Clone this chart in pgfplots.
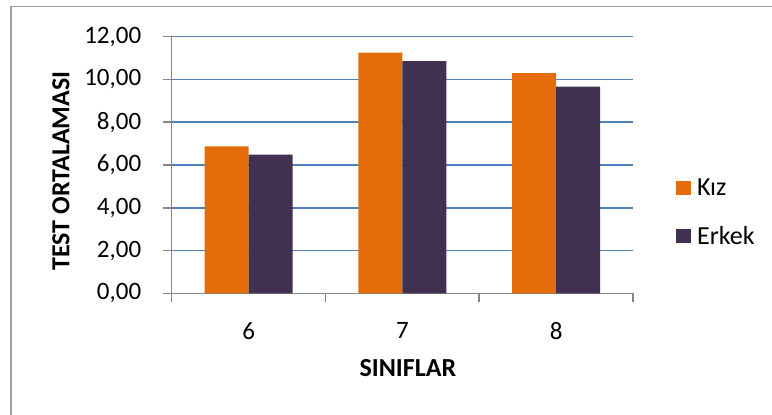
\documentclass[border=0pt]{standalone}
\usepackage{pgfplots}
\pgfplotsset{compat=1.18}
\usepackage{fontspec}
\setmainfont{Carlito}
\definecolor{kiz}{HTML}{E46C0A}
\definecolor{erkek}{HTML}{403151}
\definecolor{gridblue}{HTML}{4F81BD}
\definecolor{axgray}{HTML}{868686}
\definecolor{framegray}{HTML}{A0A0A0}
\begin{document}
\begin{tikzpicture}[x=1bp,y=1bp]
\useasboundingbox (0,0) rectangle (772,414);
% chart area frame
\draw[framegray, line width=1.5bp] (11,-5) -- (11,407.5) -- (780,407.5);
\begin{axis}[
  at={(171.7bp,120.7bp)}, anchor=south west,
  scale only axis, width=461.3bp, height=256.6bp,
  xmin=-0.5, xmax=2.5, ymin=0, ymax=12,
  ybar=0pt, bar width=0.286,
  axis x line*=bottom, axis y line*=left,
  axis line style={axgray, line width=1.5bp},
  ytick={0,2,...,12},
  ymajorgrids, major grid style={gridblue, line width=1.6bp},
  xtick={-0.5,0.5,1.5,2.5}, x tick label as interval, xticklabels={6,7,8},
  major tick length=9bp, tick align=outside,
  tick style={axgray, line width=1.5bp},
  /pgf/number format/assume math mode=true,
  tick label style={font=\fontsize{25bp}{30bp}\selectfont},
  yticklabel style={/pgf/number format/.cd, fixed, fixed zerofill, precision=2, use comma, /tikz/.cd, xshift=-18bp},
  xticklabel style={yshift=-17bp},
  xlabel={SINIFLAR}, ylabel={TEST ORTALAMASI},
  xlabel style={font=\bfseries\fontsize{26bp}{30bp}\selectfont, at={(axis description cs:0.512,-0.325)}, anchor=base},
  ylabel style={font=\bfseries\fontsize{26bp}{30bp}\selectfont, at={(axis description cs:-0.24,0.4766)}, anchor=center, rotate=0},
  legend style={at={(axis description cs:1.093,0.445)}, anchor=north west, draw=none, fill=none,
    inner sep=0pt, font=\fontsize{26bp}{30bp}\selectfont, row sep=29bp, column sep=6bp,
    nodes={inner sep=0pt}},
  legend cell align=left,
  legend image code/.code={\fill[#1] (0bp,-7bp) rectangle (15bp,7bp);},
]
\addplot[fill=kiz, draw=none] coordinates {(0,6.87) (1,11.26) (2,10.30)};
\addplot[fill=erkek, draw=none] coordinates {(0,6.48) (1,10.86) (2,9.67)};
\legend{Kız, Erkek}
\end{axis}
\end{tikzpicture}
\end{document}
